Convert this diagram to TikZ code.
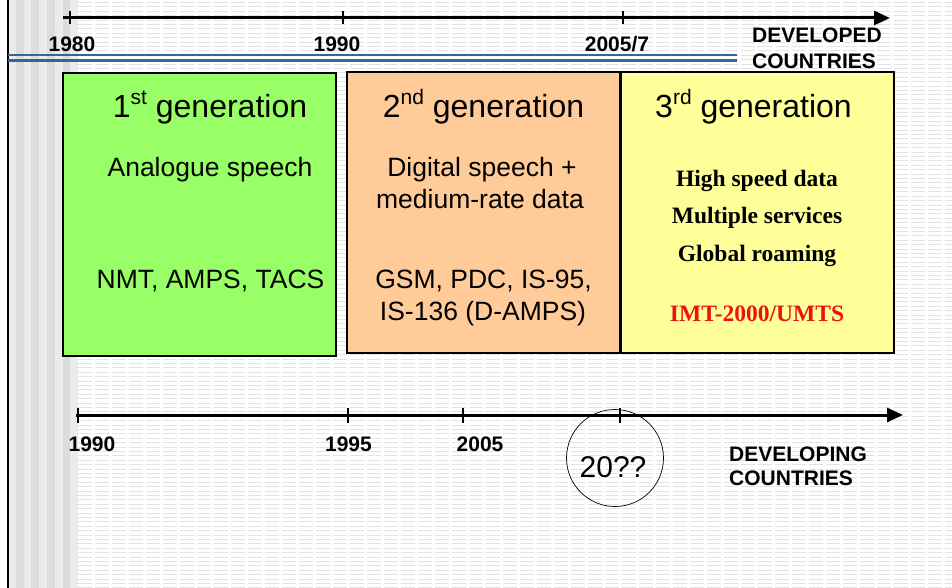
\documentclass[tikz,border=0pt]{standalone}
\usepackage{fontspec}
\setmainfont{Liberation Sans}
\newfontfamily\timesfam{Liberation Serif}
\usetikzlibrary{arrows.meta,positioning}
\definecolor{genone}{HTML}{99FF66}
\definecolor{gentwo}{HTML}{FFCC99}
\definecolor{genthree}{HTML}{FFFF99}
\definecolor{slideblue}{HTML}{336699}
\definecolor{umtsred}{HTML}{EE1111}
\definecolor{stripelight}{HTML}{EBEBEB}
\definecolor{stripedark}{HTML}{DCDCDC}
\newcommand\ordsup[1]{\raisebox{0.8ex}{\fontsize{21}{21}\selectfont #1}}
\tikzset{
    genbox/.style={draw=black, line width=1.5pt, minimum width=273pt, inner sep=0pt},
    gentitle/.style={anchor=base, inner sep=0pt, font=\fontsize{32}{38}\selectfont},
    gentext/.style={anchor=base, inner sep=0pt, font=\fontsize{26.5}{31}\selectfont},
    servtext/.style={anchor=base, inner sep=0pt, font=\timesfam\bfseries\fontsize{23.5}{28}\selectfont},
    yearlbl/.style={anchor=base, inner sep=0pt, font=\bfseries\fontsize{21}{24}\selectfont},
    arealbl/.style={anchor=base west, inner sep=0pt, font=\bfseries\fontsize{21}{24}\selectfont},
    axisline/.style={line width=3pt, -{Triangle[length=16pt,width=14pt]}},
    axistick/.style={line width=2pt},
    ruleline/.style={draw=black!11, line width=0.8pt, dash pattern=on 14pt off 3pt},
    }

\begin{document}
\begin{tikzpicture}[x=1pt,y=-1pt]
	\useasboundingbox (0,0) rectangle (952,588);
	% slide background
	\fill[white] (0,0) rectangle (952,588);
	\foreach \x in {8,23.6,39.2,54.8,70.4}
		\fill[stripelight] (\x,0) rectangle ++(7.8,588);
	\foreach \x in {15.8,31.4,47,62.6}
		\fill[stripedark] (\x,0) rectangle ++(7.8,588);
	\foreach \y in {2.5,6.9,...,588}
		\draw[ruleline] (78,\y) -- (952,\y);
	\draw[line width=2pt] (8,0) -- (8,588);
	\draw[slideblue, line width=1.6pt] (8,55) -- (737,55);
	\draw[slideblue, line width=2.2pt] (8,60.5) -- (737,60.5);

	% generation boxes
	\node[genbox, fill=genone, minimum height=283pt] (gen1) at (199.5,214.5) {};
	\node[genbox, fill=gentwo, minimum height=281pt] (gen2) at (483.5,212.5) {};
	\node[genbox, fill=genthree, minimum height=281pt] (gen3) at (757.5,212.5) {};

	\node[gentitle] (gen1title) at (210,118) {1\ordsup{st} generation};
	\node[gentext] (gen1speech) at (210,176) {Analogue speech};
	\node[gentext] (gen1std) at (210.5,288) {NMT, AMPS, TACS};

	\node[gentitle] (gen2title) at (483.5,118) {2\ordsup{nd} generation};
	\node[gentext] (gen2speech) at (482,176) {Digital speech +};
	\node[gentext] (gen2data) at (480,208) {medium-rate data};
	\node[gentext] (gen2std) at (483.5,288) {GSM, PDC, IS-95,};
	\node[gentext] (gen2stdb) at (483,320) {IS-136 (D-AMPS)};

	\node[gentitle] (gen3title) at (753.5,118) {3\ordsup{rd} generation};
	\node[servtext] (gen3data) at (757,186) {High speed data};
	\node[servtext] (gen3serv) at (757,223) {Multiple services};
	\node[servtext] (gen3roam) at (757,261) {Global roaming};
	\node[servtext, text=umtsred] (gen3std) at (757,321) {IMT-2000/UMTS};

	% developed countries time line
	\coordinate (devstart) at (63,18);
	\coordinate (devend) at (890,18);
	\draw[axisline] (devstart) -- (devend);
	\foreach \x in {70,343,623}
		\draw[axistick] (\x,11) -- (\x,24);
	\node[yearlbl] (y1980) at (72,52) {1980};
	\node[yearlbl] (y1990a) at (337,52) {1990};
	\node[yearlbl] (y2005a) at (617,52) {2005/7};
	\node[arealbl] (developed) at (752,43) {DEVELOPED};
	\node[arealbl] (developedb) at (752,69) {COUNTRIES};

	% developing countries time line
	\coordinate (dvgstart) at (76,415);
	\coordinate (dvgend) at (903,415);
	\draw[axisline] (dvgstart) -- (dvgend);
	\foreach \x in {78,348,463,620}
		\draw[axistick] (\x,408) -- (\x,423);
	\node[yearlbl] (y1990b) at (92,451) {1990};
	\node[yearlbl] (y1995) at (348.5,451) {1995};
	\node[yearlbl] (y2005b) at (480,451) {2005};
	\node[arealbl] (developing) at (729,461) {DEVELOPING};
	\node[arealbl] (developingb) at (729,485) {COUNTRIES};

	\node[draw, circle, line width=0.7pt, minimum size=97pt, inner sep=0pt] (future) at (615,458) {};
	\node[anchor=base, inner sep=0pt, font=\fontsize{30}{36}\selectfont] (futuretext) at (613,477) {20??};
\end{tikzpicture}
\end{document}
